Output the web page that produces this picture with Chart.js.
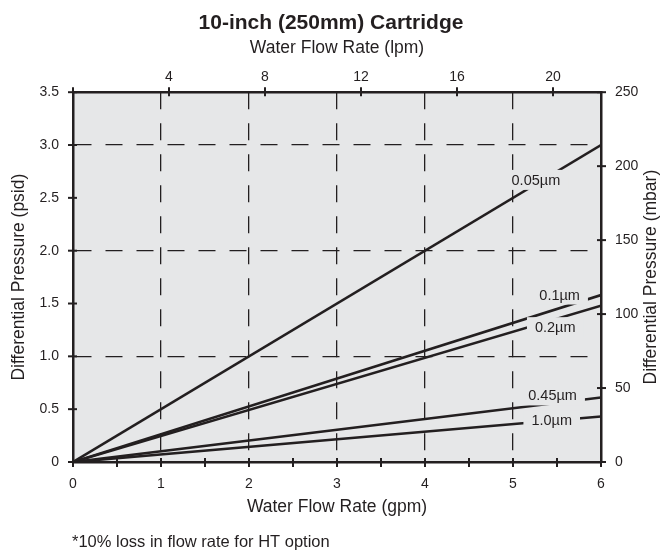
<!DOCTYPE html>
<html>
<head>
<meta charset="utf-8">
<title>10-inch (250mm) Cartridge</title>
<script src="https://cdn.jsdelivr.net/npm/chart.js@4.4.1/dist/chart.umd.min.js"></script>
<style>
  body { margin: 0; background: #fff; }
  #wrap { width: 662px; height: 552px; }
</style>
</head>
<body>
<div id="wrap"><canvas id="pressureChart" width="662" height="552"></canvas></div>
<script>
// water flow (gpm) vs differential pressure (psid)
var flowGpm = [0, 6];
var dp005 = [0, 3.0];
var dp01 = [0, 1.58];
var dp02 = [0, 1.48];
var dp045 = [0, 0.61];
var dp10 = [0, 0.43];

var poreSizes = ['0.05µm', '0.1µm', '0.2µm', '0.45µm', '1.0µm'];
var seriesDp = [dp005, dp01, dp02, dp045, dp10];

// where each pore size label sits on the plot (gpm, psid)
var labelGpm = [5.26, 5.53, 5.48, 5.45, 5.44];
var labelPsid = [2.67, 1.585, 1.276, 0.63, 0.396];

var ink = '#231f20';
var shade = '#e6e7e8';
var sans = "'Liberation Sans', Arial, Helvetica, sans-serif";

Chart.defaults.font.family = sans;
Chart.defaults.color = ink;

// dashed grid only on whole numbers inside the plot
function wholeGrid(lo, hi) {
    return function(c) {
        var v = c.tick ? c.tick.value : null;
        return (Number.isInteger(v) && v > lo && v < hi) ? ink : 'rgba(0,0,0,0)';
    };
}

var plotBg = {
    id: 'plotBg',
    beforeDraw: function(chart) {
        var a = chart.chartArea, ctx = chart.ctx;
        ctx.save();
        ctx.fillStyle = shade;
        ctx.fillRect(a.left, a.top, a.right - a.left, a.bottom - a.top);
        ctx.restore();
    }
};

// tick marks that cross the axis line
var crossTicks = {
    id: 'crossTicks',
    afterDraw: function(chart) {
        var a = chart.chartArea, ctx = chart.ctx;
        ctx.save();
        ctx.strokeStyle = ink;
        ctx.lineWidth = 2;
        ['x', 'x2', 'y', 'y2'].forEach(function(id) {
            var s = chart.scales[id];
            s.ticks.forEach(function(t) {
                var p = s.getPixelForValue(t.value);
                ctx.beginPath();
                if (id === 'x') { ctx.moveTo(p, a.bottom - 4); ctx.lineTo(p, a.bottom + 5); }
                if (id === 'x2') { ctx.moveTo(p, a.top - 5); ctx.lineTo(p, a.top + 4); }
                if (id === 'y') { ctx.moveTo(a.left - 5, p); ctx.lineTo(a.left + 4, p); }
                if (id === 'y2') { ctx.moveTo(a.right - 4, p); ctx.lineTo(a.right + 5, p); }
                ctx.stroke();
            });
        });
        ctx.restore();
    }
};

var poreLabels = {
    id: 'poreLabels',
    afterDatasetsDraw: function(chart) {
        var ctx = chart.ctx, xs = chart.scales.x, ys = chart.scales.y;
        ctx.save();
        ctx.font = '14.5px ' + sans;
        ctx.textAlign = 'center';
        ctx.textBaseline = 'middle';
        poreSizes.forEach(function(name, i) {
            var px = xs.getPixelForValue(labelGpm[i]);
            var py = ys.getPixelForValue(labelPsid[i]);
            var w = ctx.measureText(name).width + 16;
            ctx.fillStyle = shade;
            ctx.fillRect(px - w / 2, py - 10, w, 20);
            ctx.fillStyle = ink;
            ctx.fillText(name, px, py + 1);
        });
        ctx.restore();
    }
};

// right axis title reads bottom-to-top like the left one
var rightTitle = {
    id: 'rightTitle',
    afterDraw: function(chart) {
        var a = chart.chartArea, ctx = chart.ctx;
        ctx.save();
        ctx.translate(651, (a.top + a.bottom) / 2);
        ctx.rotate(-Math.PI / 2);
        ctx.font = '17.5px ' + sans;
        ctx.fillStyle = ink;
        ctx.textAlign = 'center';
        ctx.textBaseline = 'middle';
        ctx.fillText('Differential Pressure (mbar)', 0, 0);
        ctx.restore();
    }
};

var footnote = {
    id: 'footnote',
    afterDraw: function(chart) {
        var ctx = chart.ctx;
        ctx.save();
        ctx.font = '16.5px ' + sans;
        ctx.fillStyle = ink;
        ctx.textAlign = 'left';
        ctx.textBaseline = 'middle';
        ctx.fillText('*10% loss in flow rate for HT option', 72, 542);
        ctx.restore();
    }
};

var ctx = document.getElementById('pressureChart').getContext('2d');
var myChart = new Chart(ctx, {
    type: 'scatter',
    data: {
        datasets: poreSizes.map(function(name, i) {
            return {
                label: name,
                data: flowGpm.map(function(x, j) { return {x: x, y: seriesDp[i][j]}; }),
                showLine: true,
                borderColor: ink,
                borderWidth: 2.6,
                pointRadius: 0,
                xAxisID: 'x',
                yAxisID: 'y'
            };
        })
    },
    options: {
        responsive: false,
        animation: false,
        layout: { padding: 0 },
        plugins: {
            legend: { display: false },
            tooltip: { enabled: false },
            title: {
                display: true,
                text: '10-inch (250mm) Cartridge',
                font: { size: 21, weight: 'bold', lineHeight: 1.2 },
                color: ink,
                padding: { top: 11, bottom: 0 }
            }
        },
        scales: {
            x: {
                type: 'linear', position: 'bottom', min: 0, max: 6,
                afterFit: function(s) { s.height = 90; },
                ticks: {
                    stepSize: 0.5, autoSkip: false, maxRotation: 0, padding: 14,
                    font: { size: 14 }, color: ink,
                    callback: function(v) { return Number.isInteger(v) ? v : ''; }
                },
                grid: { drawTicks: false, color: wholeGrid(0, 6), lineWidth: 1.3 },
                border: { color: ink, width: 2.5, dash: [17, 14] },
                title: { display: true, text: 'Water Flow Rate (gpm)', font: { size: 17.5 }, color: ink, padding: { top: 0, bottom: 34 } }
            },
            x2: {
                type: 'linear', position: 'top', min: 0, max: 22,
                afterFit: function(s) { s.height = 56; },
                ticks: {
                    stepSize: 4, includeBounds: false, autoSkip: false, maxRotation: 0, padding: 7,
                    font: { size: 14 }, color: ink,
                    callback: function(v) { return v > 0 ? v : ''; }
                },
                grid: { drawTicks: false, drawOnChartArea: false },
                border: { color: ink, width: 2.5 },
                title: { display: true, text: 'Water Flow Rate (lpm)', font: { size: 17.5 }, color: ink, padding: { top: 1, bottom: 0 } }
            },
            y: {
                type: 'linear', position: 'left', min: 0, max: 3.5,
                afterFit: function(s) { s.width = 73; },
                ticks: {
                    stepSize: 0.5, autoSkip: false, padding: 14,
                    font: { size: 14 }, color: ink,
                    callback: function(v) { return v === 0 ? '0' : v.toFixed(1); }
                },
                grid: { drawTicks: false, color: wholeGrid(0, 3.5), lineWidth: 1.3 },
                border: { color: ink, width: 2.5, dash: [17, 14] },
                title: { display: true, text: 'Differential Pressure (psid)', font: { size: 17.5 }, color: ink, padding: { top: 9, bottom: 0 } }
            },
            y2: {
                type: 'linear', position: 'right', min: 0, max: 250,
                afterFit: function(s) { s.width = 61; },
                ticks: {
                    stepSize: 50, autoSkip: false, padding: 14,
                    font: { size: 14 }, color: ink
                },
                grid: { drawTicks: false, drawOnChartArea: false },
                border: { color: ink, width: 2.5 },
                title: { display: false }
            }
        }
    },
    plugins: [plotBg, poreLabels, crossTicks, rightTitle, footnote]
});
</script>
</body>
</html>
